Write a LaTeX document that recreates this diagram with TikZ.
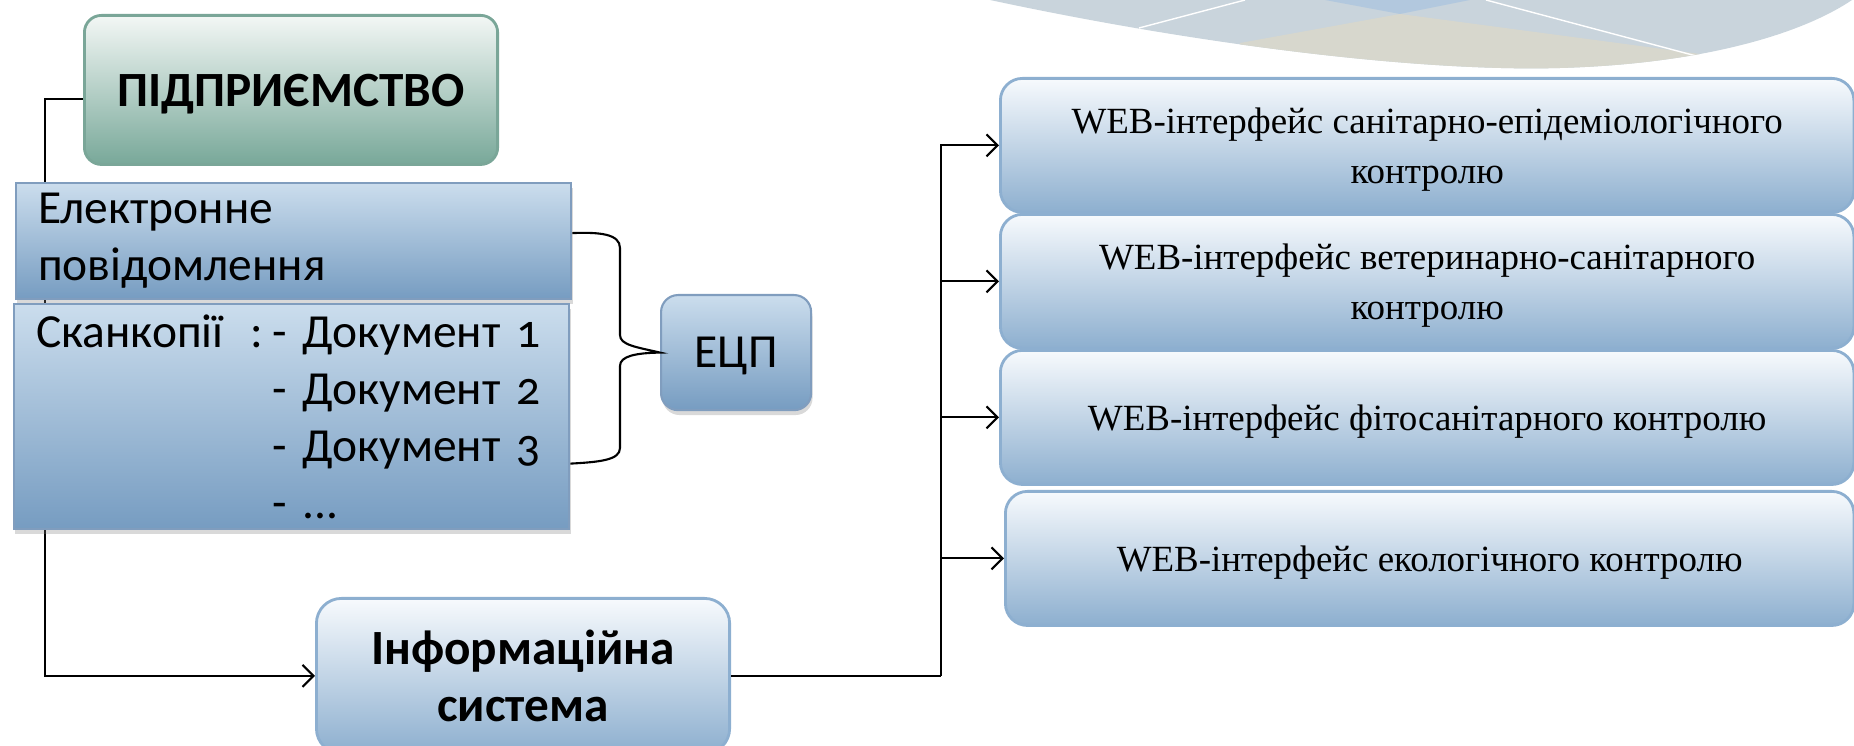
\documentclass[tikz,border=0pt]{standalone}
\usepackage{fontspec}
\setmainfont{Liberation Serif}
\newfontfamily\candfont{Carlito}[Numbers=OldStyle]
\usetikzlibrary{arrows.meta,calc,shadows,backgrounds}

\newcommand{\webbox}[5]{% Parameters: name, left, top, width, text
  \node[webpanel, minimum width=#4cm] (#1) at (#2,#3) {#5};
}
\newcommand{\swoosh}{% template ornament, top right
  \begin{scope}
    \clip (990,0) .. controls (1200,45) and (1420,72) .. (1560,68) .. controls (1700,64) and (1800,35) .. (1852,0) -- cycle;
    \fill[Swoosh] (990,0) rectangle (1854,80);
    \fill[SwooshSand] (1240,80) -- (1240,43) -- (1400,14) -- (1700,54) -- (1700,80) -- cycle;
    \fill[SwooshSky] (1325,0) -- (1400,14) -- (1470,0) -- cycle;
    \draw[white,line width=0.4pt] (1139,28) -- (1245,0);
    \draw[white,line width=0.4pt] (1486,0) -- (1700,57);
  \end{scope}
}
\definecolor{Frame}{RGB}{141,175,208}
\definecolor{BoxTop}{RGB}{247,250,253}
\definecolor{BoxBottom}{RGB}{141,175,207}
\definecolor{PlateTop}{RGB}{203,221,237}
\definecolor{PlateBottom}{RGB}{118,156,193}
\definecolor{PlateFrame}{RGB}{128,157,190}
\definecolor{FirmTop}{RGB}{243,247,245}
\definecolor{FirmBottom}{RGB}{120,168,153}
\definecolor{FirmFrame}{RGB}{122,166,152}
\definecolor{Swoosh}{RGB}{201,212,220}
\definecolor{SwooshSand}{RGB}{215,215,205}
\definecolor{SwooshSky}{RGB}{178,200,222}

\tikzset{
  webpanel/.style={draw=Frame,line width=0.8pt,rounded corners=0.22cm,top color=BoxTop,bottom color=BoxBottom,
    anchor=north west,align=center,inner sep=0pt,minimum height=1.34cm,text depth=0pt,
    font=\fontsize{10.5}{14.2}\selectfont},
  plate/.style={draw=PlateFrame,line width=0.6pt,top color=PlateTop,bottom color=PlateBottom,
    anchor=north west,align=left,inner xsep=0.22cm,inner ysep=0pt,text width=5.11cm,
    font=\candfont\fontsize{13.5}{16.2}\selectfont,
    drop shadow={opacity=0.3,shadow xshift=0.4pt,shadow yshift=-1.4pt}},
  flow/.style={line width=0.6pt,-{Straight Barb[length=1.1mm,width=2.2mm]}},
  link/.style={line width=0.6pt},
}

\begin{document}
\begin{tikzpicture}[x=0.01cm,y=-0.01cm]
  \useasboundingbox (0,0) rectangle (1854,746);
  \swoosh

  % left column
  \node[draw=FirmFrame,line width=0.8pt,rounded corners=0.17cm,top color=FirmTop,bottom color=FirmBottom,
    anchor=north west,minimum width=4.13cm,minimum height=1.49cm,inner sep=0pt,text depth=0pt,
    font=\candfont\bfseries\fontsize{14}{16}\selectfont] (firm) at (83,14) {ПІДПРИЄМСТВО};
  \node[plate,minimum height=1.16cm] (msg) at (15,182) {Електронне\\повідомлення};
  \node[plate,minimum height=2.25cm] (scan) at (13,303)
    {\makebox[2.14cm][l]{Сканкопії}\makebox[0.22cm][l]{:}- Документ 1\\
     \hspace*{2.36cm}- Документ 2\\
     \hspace*{2.36cm}- Документ 3\\
     \hspace*{2.36cm}- ...};
  \node[draw=PlateFrame,line width=0.6pt,rounded corners=0.17cm,top color=PlateTop,bottom color=PlateBottom,
    anchor=north west,minimum width=1.5cm,minimum height=1.15cm,inner sep=0pt,text depth=0pt,
    font=\candfont\fontsize{13.5}{16}\selectfont,
    drop shadow={opacity=0.3,shadow xshift=0.4pt,shadow yshift=-1.4pt}] (ecp) at (660,294) {ЕЦП};
  \node[draw=Frame,line width=0.8pt,rounded corners=0.25cm,top color=BoxTop,bottom color=BoxBottom,
    anchor=north west,minimum width=4.13cm,minimum height=1.55cm,inner sep=0pt,align=center,
    font=\candfont\bfseries\fontsize{14}{16.2}\selectfont] (info) at (315,597) {Інформаційна\\система};

  % right column
  \webbox{web1}{999}{77}{8.53}{WEB-інтерфейс санітарно-епідеміологічного\\контролю}
  \webbox{web2}{999}{213}{8.53}{WEB-інтерфейс ветеринарно-санітарного\\контролю}
  \webbox{web3}{999}{349}{8.53}{WEB-інтерфейс фітосанітарного контролю}
  \webbox{web4}{1004}{490}{8.48}{WEB-інтерфейс екологічного контролю}

  % connectors
  \begin{scope}[on background layer]
    \draw[flow] ([yshift=-0.09cm]firm.west) -- ++(-38,0) |- (info.west);
  \end{scope}
  \draw[link] ([yshift=0.08cm]msg.east) .. controls (600,232) and (620,234) .. (620,248) -- (620,335)
    .. controls (620,345) and (636,347) .. (ecp.west)
    .. controls (636,353) and (620,356) .. (620,366) -- (620,448)
    .. controls (620,460) and (600,462) .. ($(scan.east)+(0,47)$);
  \coordinate (split) at ($(info.east)+(210,0)$);
  \draw[link] (info.east) -- (split);
  \foreach \n in {web1,web2,web3,web4}
    \draw[flow] (split) |- (\n.west);
\end{tikzpicture}
\end{document}
